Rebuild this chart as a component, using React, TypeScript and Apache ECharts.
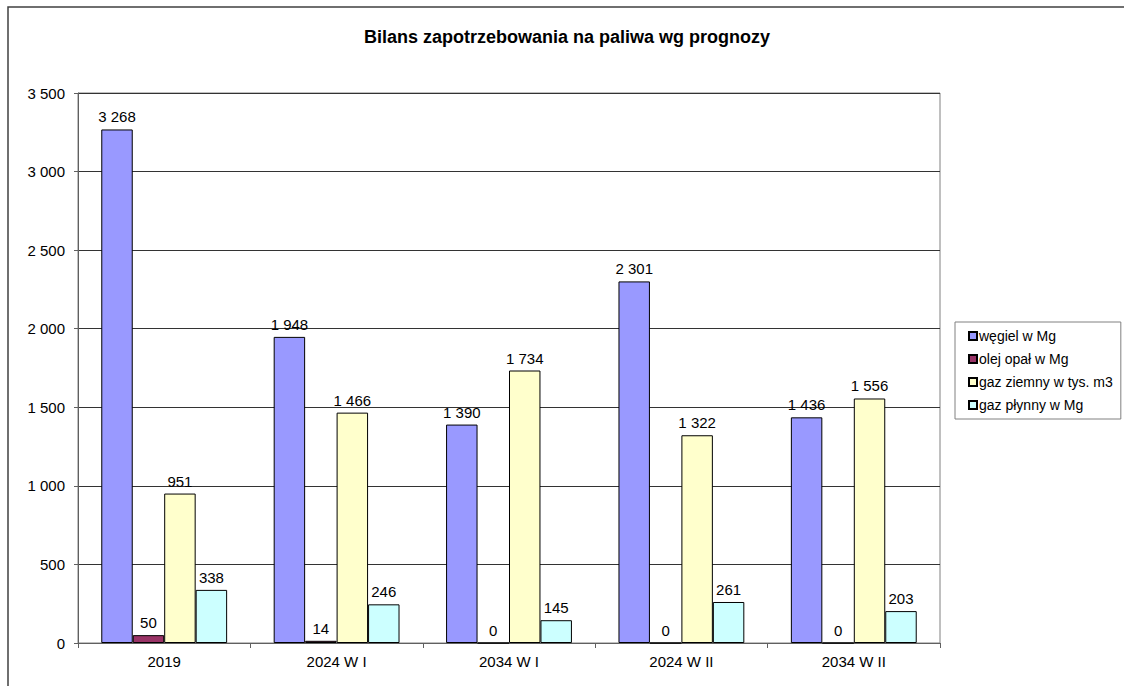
import React, { useEffect, useRef } from "react";
import * as echarts from "echarts";

const categories = ["2019", "2024 W I", "2034 W I", "2024 W II", "2034 W II"];
const seriesNames = ["węgiel w Mg", "olej opał w Mg", "gaz ziemny w tys. m3", "gaz płynny w Mg"];
const wegiel = [3268, 1948, 1390, 2301, 1436];
const olej = [50, 14, 0, 0, 0];
const gazZiemny = [951, 1466, 1734, 1322, 1556];
const gazPlynny = [338, 246, 145, 261, 203];
const colors = ["#9999FF", "#993366", "#FFFFCC", "#CCFFFF"];
const titleText = "Bilans zapotrzebowania na paliwa wg prognozy";

const fmt = (v: number) => String(v).replace(/\B(?=(\d{3})+(?!\d))/g, " ");

export default function App() {
  const ref = useRef<HTMLDivElement>(null);
  useEffect(() => {
    if (!ref.current) return;
    const chart = echarts.init(ref.current, null, { renderer: "svg" });
    const font = "Arial, 'Liberation Sans', sans-serif";
    const values = [wegiel, olej, gazZiemny, gazPlynny];
    chart.setOption({
      animation: false,
      backgroundColor: "#ffffff",
      textStyle: { fontFamily: font },
      graphic: [
        {
          type: "rect",
          shape: { x: 8, y: 7, width: 1300, height: 1000 },
          style: { fill: "none", stroke: "#404040", lineWidth: 1.5 },
          silent: true,
        },
        {
          type: "text",
          x: 567,
          y: 37,
          style: {
            text: titleText,
            font: `bold 18px ${font}`,
            fill: "#000",
            textAlign: "center",
            textVerticalAlign: "middle",
          },
        },
      ],
      legend: {
        orient: "vertical",
        left: 955,
        top: 322,
        padding: [6, 8, 6, 13],
        itemGap: 7,
        itemWidth: 8,
        itemHeight: 8,
        icon: "rect",
        borderColor: "#808080",
        borderWidth: 1,
        textStyle: { fontFamily: font, fontSize: 14, color: "#000", padding: [0, 0, 0, -3], lineHeight: 16 },
        data: seriesNames,
      },
      grid: {
        left: 78,
        top: 93,
        right: 184,
        bottom: 43,
        show: true,
        borderColor: "#808080",
        borderWidth: 1,
      },
      xAxis: {
        type: "category",
        data: categories,
        axisLine: { lineStyle: { color: "#606060", width: 1 } },
        axisTick: { show: true, length: 5, lineStyle: { color: "#606060" } },
        axisLabel: { color: "#000", fontSize: 15, fontFamily: font, margin: 11 },
      },
      yAxis: {
        type: "value",
        min: 0,
        max: 3500,
        interval: 500,
        axisLine: { show: true, lineStyle: { color: "#606060", width: 1 } },
        axisTick: { show: true, length: 4, lineStyle: { color: "#606060" } },
        axisLabel: { color: "#000", fontSize: 15, fontFamily: font, margin: 13, formatter: (v: number) => fmt(v) },
        splitLine: { show: true, lineStyle: { color: "#333", width: 1 } },
      },
      series: seriesNames.map((name, i) => ({
        name,
        type: "bar",
        data: values[i],
        barGap: "0%",
        barCategoryGap: "27%",
        itemStyle: { color: colors[i], borderColor: "#000", borderWidth: 1 },
        label: {
          show: true,
          position: "top",
          distance: 5,
          color: "#000",
          fontSize: 15,
          fontFamily: font,
          formatter: (p: any) => fmt(p.value),
        },
      })),
    });
    return () => chart.dispose();
  }, []);
  return <div ref={ref} style={{ position: "fixed", left: 0, top: 0, width: 1124, height: 686 }} />;
}
